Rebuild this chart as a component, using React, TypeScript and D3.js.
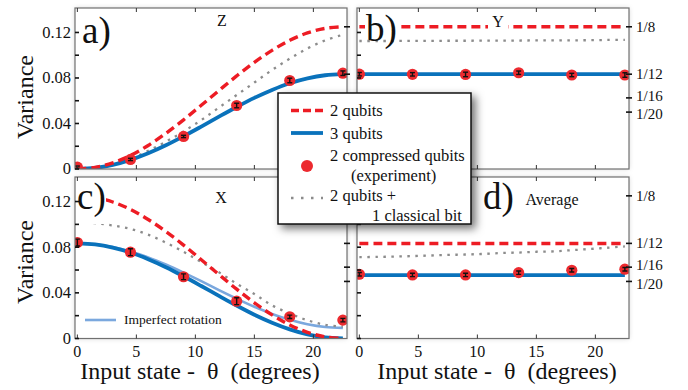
import React from 'react';
import * as d3 from 'd3';

// ---------- data ----------
const THETA = [0, 1.5, 3, 4.5, 6, 7.5, 9, 10.5, 12, 13.5, 15, 16.5, 18, 19.5, 21, 22.5];
const EXP_THETA = [0, 4.5, 9, 13.5, 18, 22.5];

// Panel a) Z
const Z_TWO = [0, 0.0014, 0.0054, 0.0119, 0.0207, 0.0313, 0.0432, 0.056, 0.069, 0.0818, 0.0938, 0.1043, 0.1131, 0.1196, 0.1236, 0.125];
const Z_THREE = [0, 0.0009, 0.0036, 0.008, 0.0138, 0.0208, 0.0288, 0.0373, 0.046, 0.0545, 0.0625, 0.0695, 0.0754, 0.0797, 0.0824, 0.0833];
const Z_CLASSICAL = [0, 0.001, 0.004, 0.009, 0.016, 0.024, 0.033, 0.043, 0.054, 0.065, 0.076, 0.087, 0.097, 0.106, 0.113, 0.118];
const Z_EXP = [0.0016, 0.0084, 0.0286, 0.0558, 0.0778, 0.0842];
const Z_ERR = [0.001, 0.001, 0.001, 0.002, 0.002, 0.002];

// Panel b) Y
const Y_TWO = [0.125, 0.125, 0.125, 0.125, 0.125, 0.125, 0.125, 0.125, 0.125, 0.125, 0.125, 0.125, 0.125, 0.125, 0.125, 0.125];
const Y_THREE = [0.0833, 0.0833, 0.0833, 0.0833, 0.0833, 0.0833, 0.0833, 0.0833, 0.0833, 0.0833, 0.0833, 0.0833, 0.0833, 0.0833, 0.0833, 0.0833];
const Y_CLASSICAL = [0.1125, 0.1125, 0.1125, 0.1126, 0.1126, 0.1127, 0.1127, 0.1128, 0.1128, 0.1129, 0.113, 0.113, 0.1131, 0.1132, 0.1134, 0.1135];
const Y_EXP = [0.0833, 0.0832, 0.0831, 0.0846, 0.0826, 0.0826];
const Y_ERR = [0.0015, 0.0015, 0.002, 0.0015, 0.0015, 0.002];

// Panel c) X
const X_TWO = [0.125, 0.1236, 0.1196, 0.1131, 0.1043, 0.0938, 0.0818, 0.069, 0.056, 0.0432, 0.0313, 0.0207, 0.0119, 0.0054, 0.0014, 0];
const X_THREE = [0.0833, 0.0824, 0.0797, 0.0754, 0.0695, 0.0625, 0.0545, 0.046, 0.0373, 0.0288, 0.0208, 0.0138, 0.008, 0.0036, 0.0009, 0];
const X_IMPERFECT = [0.0833, 0.0825, 0.0801, 0.0762, 0.0711, 0.0648, 0.0577, 0.0502, 0.0424, 0.0349, 0.0278, 0.0215, 0.0164, 0.0125, 0.0101, 0.0093];
const X_CLASSICAL = [0.1015, 0.101, 0.099, 0.096, 0.091, 0.084, 0.076, 0.067, 0.058, 0.048, 0.039, 0.029, 0.022, 0.016, 0.012, 0.0105];
const X_EXP = [0.0841, 0.0756, 0.0541, 0.0327, 0.019, 0.0161];
const X_ERR = [0.003, 0.003, 0.0025, 0.003, 0.0015, 0.0015];

// Panel d) Average
const AVG_TWO = [0.0833, 0.0833, 0.0833, 0.0833, 0.0833, 0.0833, 0.0833, 0.0833, 0.0833, 0.0833, 0.0833, 0.0833, 0.0833, 0.0833, 0.0833, 0.0833];
const AVG_THREE = [0.0556, 0.0556, 0.0556, 0.0556, 0.0556, 0.0556, 0.0556, 0.0556, 0.0556, 0.0556, 0.0556, 0.0556, 0.0556, 0.0556, 0.0556, 0.0556];
const AVG_CLASSICAL = [0.0713, 0.0715, 0.0718, 0.0722, 0.0727, 0.0732, 0.0736, 0.0741, 0.0749, 0.0753, 0.0760, 0.0763, 0.0774, 0.0784, 0.0795, 0.0807];
const AVG_EXP = [0.0563, 0.0557, 0.0557, 0.0577, 0.0598, 0.0607];
const AVG_ERR = [0.0015, 0.0015, 0.0015, 0.0015, 0.0015, 0.0015];

const X_TICKS = [0, 5, 10, 15, 20];
const Y_TICKS = [0, 0.04, 0.08, 0.12];
const Y_TICK_LABELS = ['0', '0.04', '0.08', '0.12'];
const Y_MINOR = [0.02, 0.06, 0.1];
const RIGHT_TICKS = [1 / 8, 1 / 12, 1 / 16, 1 / 20];
const RIGHT_TICK_LABELS = ['1/8', '1/12', '1/16', '1/20'];

const LEGEND = ['2 qubits', '3 qubits', '2 compressed qubits', '(experiment)', '2 qubits +', '1 classical bit'];

// ---------- styles ----------
const RED = '#ed1c24';
const BLUE = '#0a72bb';
const LIGHT_BLUE = '#7ba8de';
const GRAY = '#8c8c8c';
const FRAME = '#707070';
const SERIF = { fontFamily: '"Liberation Serif"' };
const SERIF_PRE = { fontFamily: '"Liberation Serif"', whiteSpace: 'pre' as const };
const RIGHT_LABEL_SHIFT = [0, 0, -2, 2.5];

type PanelProps = {
  id: string;
  x0: number; x1: number; y0: number; y1: number;
  two: number[]; three: number[]; classical: number[]; imperfect?: number[];
  exp: number[]; err: number[];
  label: string; labelBox: [number, number, number, number]; labelPos: [number, number];
  title: string; titleBox?: [number, number, number, number]; titlePos: [number, number];
  leftLabels: boolean; rightLabels: boolean; bottomLabels: boolean;
};

function Panel(p: PanelProps) {
  const x = d3.scaleLinear().domain([-0.2, 22.85]).range([p.x0, p.x1]);
  const y = d3.scaleLinear().domain([0, 0.1415]).range([p.y1, p.y0]);
  const line = (vals: number[]) =>
    d3.line<number>().x((_, i) => x(THETA[i])).y((v) => y(v)).curve(d3.curveCatmullRom)(vals) || '';
  const clipId = 'clip-' + p.id;
  return (
    <g>
      <defs>
        <clipPath id={clipId}>
          <rect x={p.x0} y={p.y0} width={p.x1 - p.x0} height={p.y1 - p.y0} />
        </clipPath>
      </defs>
      <rect x={p.x0} y={p.y0} width={p.x1 - p.x0} height={p.y1 - p.y0} fill="#fff" stroke="none" filter="url(#panelShadow)" />
      <g clipPath={`url(#${clipId})`}>
        {p.imperfect && <path d={line(p.imperfect)} fill="none" stroke={LIGHT_BLUE} strokeWidth={2.6} />}
        <path d={line(p.classical)} fill="none" stroke={GRAY} strokeWidth={2.3} strokeDasharray="2.5,5.5" />
        <path d={line(p.three)} fill="none" stroke={BLUE} strokeWidth={3.8} />
        <path d={line(p.two)} fill="none" stroke={RED} strokeWidth={3.4} strokeDasharray="9,5" />
        {p.exp.map((v, i) => (
          <g key={i}>
            <circle cx={x(EXP_THETA[i])} cy={y(v)} r={5.6} fill="#ec2a2f" />
            <line x1={x(EXP_THETA[i])} x2={x(EXP_THETA[i])} y1={y(v - p.err[i])} y2={y(v + p.err[i])} stroke="#111" strokeWidth={1.4} />
            <line x1={x(EXP_THETA[i]) - 2.5} x2={x(EXP_THETA[i]) + 2.5} y1={y(v - p.err[i])} y2={y(v - p.err[i])} stroke="#111" strokeWidth={1.4} />
            <line x1={x(EXP_THETA[i]) - 2.5} x2={x(EXP_THETA[i]) + 2.5} y1={y(v + p.err[i])} y2={y(v + p.err[i])} stroke="#111" strokeWidth={1.4} />
          </g>
        ))}
      </g>
      {/* panel label with white background */}
      <rect x={p.labelBox[0]} y={p.labelBox[1]} width={p.labelBox[2]} height={p.labelBox[3]} fill="#fff" />
      <text x={p.labelPos[0]} y={p.labelPos[1]} style={SERIF} fontSize={37} fill="#111">{p.label}</text>
      {p.titleBox && <rect x={p.titleBox[0]} y={p.titleBox[1]} width={p.titleBox[2]} height={p.titleBox[3]} fill="#fff" />}
      <text x={p.titlePos[0]} y={p.titlePos[1]} style={SERIF} fontSize={16} fill="#111" textAnchor="middle">{p.title}</text>
      {/* frame */}
      <rect x={p.x0} y={p.y0} width={p.x1 - p.x0} height={p.y1 - p.y0} fill="none" stroke={FRAME} strokeWidth={1.2} />
      {/* x ticks (top & bottom, inward) */}
      {X_TICKS.map((t) => (
        <g key={'xt' + t}>
          <line x1={x(t)} x2={x(t)} y1={p.y1} y2={p.y1 - 4} stroke="#333" strokeWidth={1} />
          <line x1={x(t)} x2={x(t)} y1={p.y0} y2={p.y0 + 4} stroke="#333" strokeWidth={1} />
          {p.bottomLabels && (
            <text x={x(t)} y={p.y1 + 18} style={SERIF} fontSize={16} textAnchor="middle" fill="#111">{t}</text>
          )}
        </g>
      ))}
      {/* left ticks */}
      {Y_TICKS.concat(Y_MINOR).map((t) => (
        <line key={'yl' + t} x1={p.x0} x2={p.x0 + 4} y1={y(t)} y2={y(t)} stroke="#111" strokeWidth={1.6} />
      ))}
      {p.leftLabels && Y_TICKS.map((t, i) => (
        <text key={'yll' + t} x={p.x0 - 4} y={y(t)} dy="0.33em" style={SERIF} fontSize={16.5} textAnchor="end" fill="#111">{Y_TICK_LABELS[i]}</text>
      ))}
      {/* right ticks */}
      {RIGHT_TICKS.map((t, i) => (
        <g key={'yr' + i}>
          <line x1={p.x1 - 3} x2={p.x1 + 3} y1={y(t)} y2={y(t)} stroke="#111" strokeWidth={1.6} />
          {p.rightLabels && (
            <text x={p.x1 + 7} y={y(t) + RIGHT_LABEL_SHIFT[i]} dy="0.32em" style={SERIF} fontSize={15} fill="#111">{RIGHT_TICK_LABELS[i]}</text>
          )}
        </g>
      ))}
    </g>
  );
}

export default function App() {
  return (
    <svg width={688} height={390} style={{ position: 'absolute', left: 0, top: 0, background: '#fff' }}>
      <defs>
        <filter id="legendShadow" x="-20%" y="-20%" width="150%" height="150%">
          <feDropShadow dx={4} dy={4} stdDeviation={4} floodColor="#000" floodOpacity={0.55} />
        </filter>
        <filter id="panelShadow" x="-10%" y="-10%" width="120%" height="120%">
          <feDropShadow dx={0} dy={0} stdDeviation={2.5} floodColor="#000" floodOpacity={0.18} />
        </filter>
      </defs>
      <rect x={0} y={0} width={688} height={390} fill="#fff" />
      <Panel id="a" x0={75} x1={347} y0={8} y1={169}
        two={Z_TWO} three={Z_THREE} classical={Z_CLASSICAL} exp={Z_EXP} err={Z_ERR}
        label="a)" labelBox={[80, 12, 33, 36]} labelPos={[82, 43]}
        title="Z" titlePos={[222, 26]}
        leftLabels rightLabels={false} bottomLabels={false} />
      <Panel id="b" x0={357} x1={629} y0={8} y1={169}
        two={Y_TWO} three={Y_THREE} classical={Y_CLASSICAL} exp={Y_EXP} err={Y_ERR}
        label="b)" labelBox={[365, 10, 34, 27]} labelPos={[366, 41]}
        title="Y" titleBox={[488, 14, 20, 18]} titlePos={[498, 27]}
        leftLabels={false} rightLabels bottomLabels={false} />
      <Panel id="c" x0={75} x1={347} y0={177} y1={338.5}
        two={X_TWO} three={X_THREE} classical={X_CLASSICAL} imperfect={X_IMPERFECT} exp={X_EXP} err={X_ERR}
        label="c)" labelBox={[76, 180, 30, 44]} labelPos={[77, 209]}
        title="X" titlePos={[221, 203]}
        leftLabels rightLabels={false} bottomLabels />
      <Panel id="d" x0={357} x1={629} y0={177} y1={338.5}
        two={AVG_TWO} three={AVG_THREE} classical={AVG_CLASSICAL} exp={AVG_EXP} err={AVG_ERR}
        label="d)" labelBox={[483, 182, 32, 30]} labelPos={[483, 209]}
        title="Average" titlePos={[552, 205]}
        leftLabels={false} rightLabels bottomLabels />

      {/* imperfect rotation legend inside c */}
      <line x1={85} x2={116} y1={320} y2={320} stroke={LIGHT_BLUE} strokeWidth={2.6} />
      <text x={124} y={324} style={SERIF} fontSize={13.5} fill="#111">Imperfect rotation</text>

      {/* axis titles */}
      <text transform="translate(33,97) rotate(-90)" textAnchor="middle" style={SERIF} fontSize={24} fill="#111">Variance</text>
      <text transform="translate(33,262) rotate(-90)" textAnchor="middle" style={SERIF} fontSize={24} fill="#111">Variance</text>
      <text x={200} y={379} textAnchor="middle" style={SERIF_PRE} fontSize={24} fill="#111">{'Input state -  θ  (degrees)'}</text>
      <text x={497} y={379} textAnchor="middle" style={SERIF_PRE} fontSize={24} fill="#111">{'Input state -  θ  (degrees)'}</text>

      {/* main legend */}
      <g>
        <rect x={278} y={93} width={193} height={131} fill="#fff" stroke="#111" strokeWidth={1.5} filter="url(#legendShadow)" />
        <line x1={291} x2={323} y1={110.5} y2={110.5} stroke={RED} strokeWidth={3.4} strokeDasharray="8,4" />
        <text x={330} y={116} style={SERIF} fontSize={16.5} fill="#111">{LEGEND[0]}</text>
        <line x1={291} x2={323} y1={133} y2={133} stroke={BLUE} strokeWidth={3.8} />
        <text x={330} y={138.5} style={SERIF} fontSize={16.5} fill="#111">{LEGEND[1]}</text>
        <circle cx={307} cy={166} r={6} fill="#ec2a2f" />
        <text x={330} y={160.5} style={SERIF} fontSize={16.5} fill="#111">{LEGEND[2]}</text>
        <text x={351} y={180.5} style={SERIF} fontSize={16.5} fill="#111">{LEGEND[3]}</text>
        <line x1={291} x2={323} y1={198} y2={198} stroke={GRAY} strokeWidth={2.3} strokeDasharray="2.5,7.5" />
        <text x={330} y={200.5} style={SERIF} fontSize={16.5} fill="#111">{LEGEND[4]}</text>
        <text x={372} y={220.5} style={SERIF} fontSize={16.5} fill="#111">{LEGEND[5]}</text>
      </g>
    </svg>
  );
}
